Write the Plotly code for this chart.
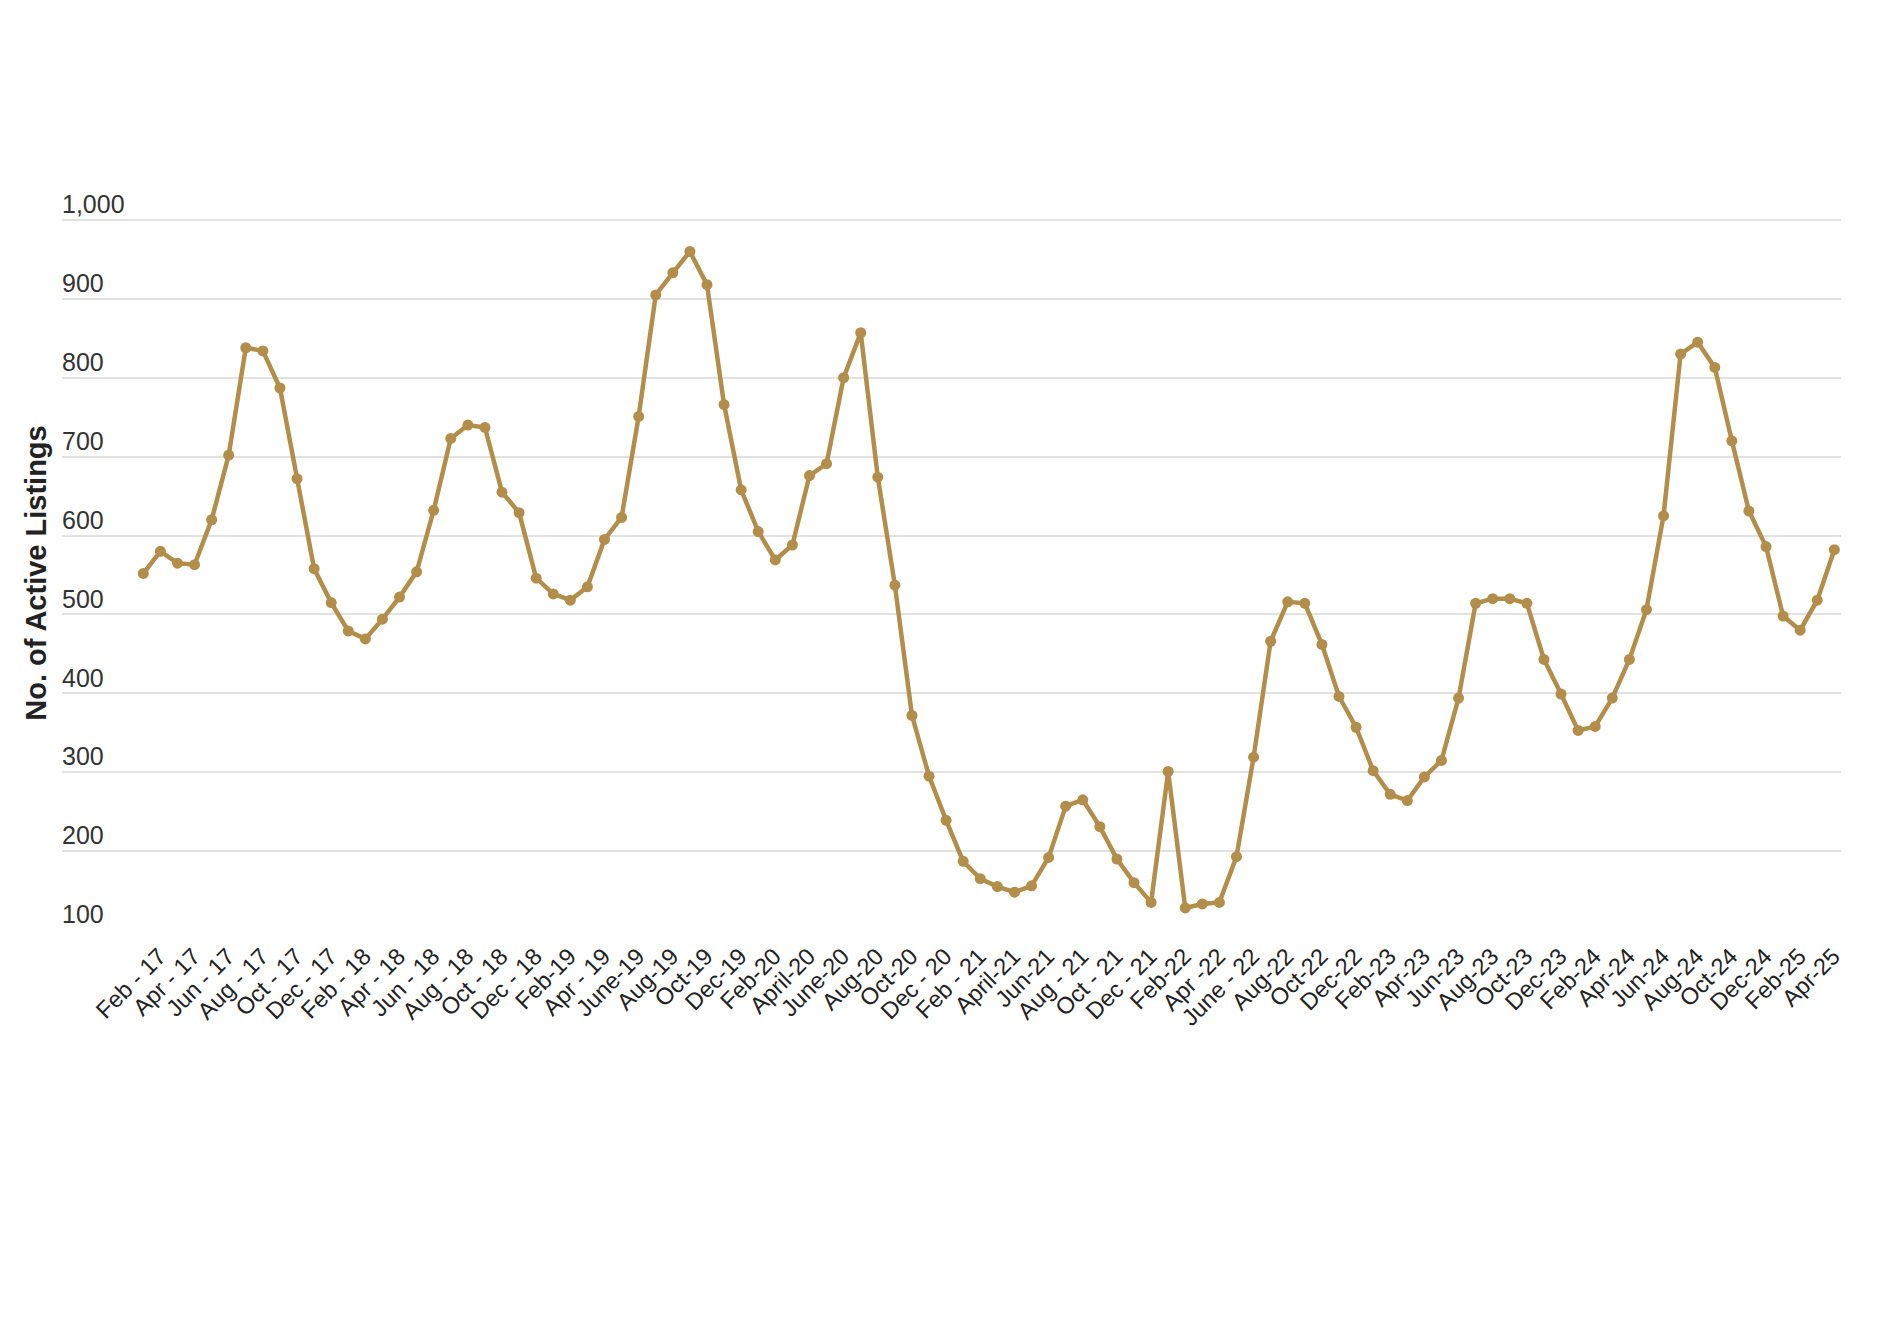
import plotly.graph_objects as go

# Month categories (Feb 2017 .. May 2025), one per data point
month_names = ["Jan", "Feb", "Mar", "Apr", "May", "Jun", "Jul", "Aug", "Sep", "Oct", "Nov", "Dec"]
years = [2017, 2018, 2019, 2020, 2021, 2022, 2023, 2024, 2025]
months = []
for yr in years:
    for mn in month_names:
        months.append(f"{mn} {yr}")
months = months[1:1 + 100]  # Feb 2017 .. May 2025

active_listings = [
    552, 580, 565, 563, 620, 702, 838, 834, 787, 672, 558,            # 2017 Feb-Dec
    515, 479, 469, 494, 522, 554, 632, 723, 740, 737, 655, 629,       # 2018
    546, 526, 518, 535, 595, 623, 751, 905, 933, 960, 918, 766,       # 2019
    658, 605, 569, 588, 676, 691, 800, 857, 674, 537, 372, 295,       # 2020
    239, 187, 165, 155, 148, 156, 192, 257, 265, 231, 190, 160,       # 2021
    135, 301, 128, 133, 135, 193, 319, 466, 516, 514, 462, 396,       # 2022
    357, 302, 272, 264, 294, 315, 394, 514, 520, 520, 514, 443,       # 2023
    399, 353, 358, 394, 443, 506, 625, 830, 845, 813, 720, 631,       # 2024
    586, 498, 480, 518, 582,                                          # 2025
]

tick_labels = [
    "Feb - 17", "Apr - 17", "Jun - 17", "Aug - 17", "Oct - 17", "Dec - 17",
    "Feb - 18", "Apr - 18", "Jun - 18", "Aug - 18", "Oct - 18", "Dec - 18",
    "Feb-19", "Apr - 19", "June-19", "Aug-19", "Oct-19", "Dec-19",
    "Feb-20", "April-20", "June-20", "Aug-20", "Oct-20", "Dec - 20",
    "Feb - 21", "April-21", "Jun-21", "Aug - 21", "Oct - 21", "Dec - 21",
    "Feb-22", "Apr -22", "June - 22", "Aug-22", "Oct-22", "Dec-22",
    "Feb-23", "Apr-23", "Jun-23", "Aug-23", "Oct-23", "Dec-23",
    "Feb-24", "Apr-24", "Jun-24", "Aug-24", "Oct-24", "Dec-24",
    "Feb-25", "Apr-25",
]
tick_positions = months[0:100:2]

y_ticks = [100, 200, 300, 400, 500, 600, 700, 800, 900, 1000]

GOLD = "#B38D4A"
FONT = "Arial, Liberation Sans, Helvetica, sans-serif"

fig = go.Figure()
fig.add_trace(go.Scatter(
    x=months,
    y=active_listings,
    mode="lines+markers",
    line=dict(color=GOLD, width=4.5),
    marker=dict(color=GOLD, size=11),
    showlegend=False,
    hoverinfo="x+y",
    cliponaxis=False,
))

# The page body adds an 8px margin, so the figure is sized to fit the window.
fig.update_layout(
    width=1877,
    height=1322,
    paper_bgcolor="white",
    plot_bgcolor="white",
    margin=dict(l=54, r=44, t=208, b=400),
    font=dict(family=FONT, color="#222222"),
    xaxis=dict(
        type="category",
        range=[-4.76, 99.39],
        tickmode="array",
        tickvals=tick_positions,
        ticktext=tick_labels,
        tickangle=-45,
        tickfont=dict(size=23.5, color="#222222"),
        ticklabelshift=16,
        ticklabelstandoff=7,
        showgrid=False,
        showline=False,
        zeroline=False,
        ticks="",
        automargin=False,
    ),
    yaxis=dict(
        range=[100, 1005],
        tickmode="array",
        tickvals=y_ticks,
        tickformat=",",
        ticklabelposition="inside top",
        ticklabeloverflow="allow",
        ticklabelstandoff=-3,
        ticklabelshift=2,
        tickfont=dict(size=25, color="#333333"),
        showgrid=True,
        gridcolor="#E2E2E2",
        gridwidth=1.5,
        zeroline=False,
        showline=False,
        ticks="",
        automargin=False,
        title=dict(
            text="<b>No. of Active Listings</b>",
            font=dict(size=29, color="#222222"),
            standoff=6,
        ),
    ),
)

fig.write_html("out.html")
